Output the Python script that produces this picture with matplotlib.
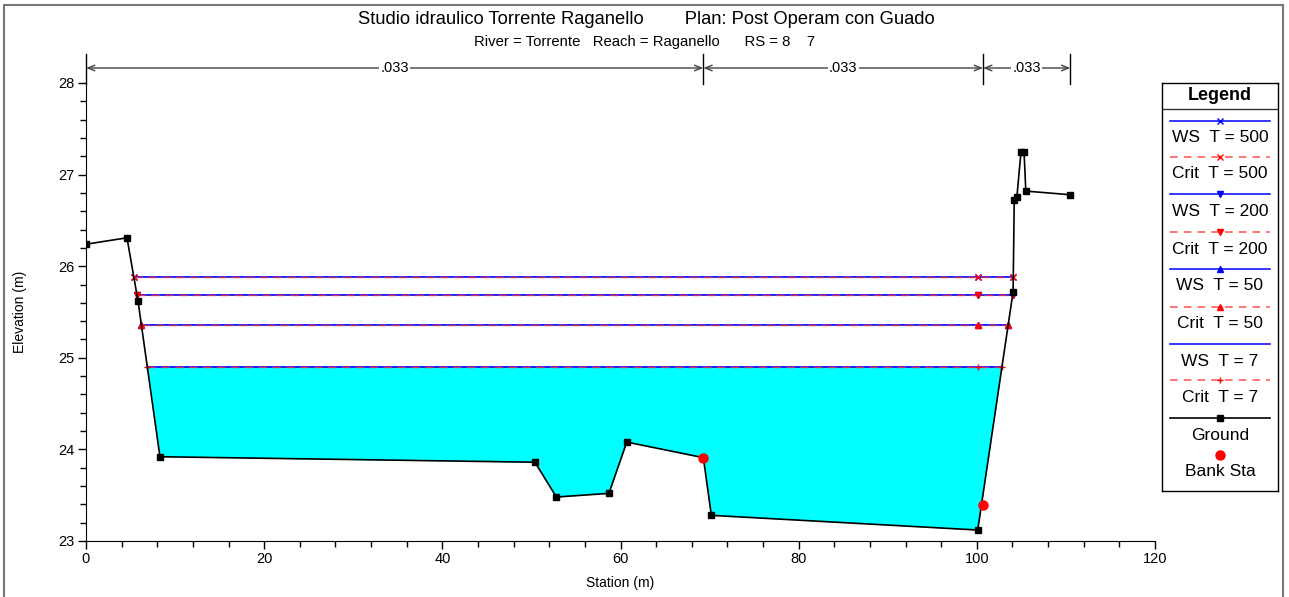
import numpy as np
import matplotlib
matplotlib.use("Agg")
import matplotlib.pyplot as plt
from matplotlib.patches import Rectangle
from matplotlib.ticker import MultipleLocator
import matplotlib.transforms as mtransforms

plt.rcParams['font.family'] = ['Liberation Sans', 'DejaVu Sans']

# dati
ground_sta = [0.0, 4.6, 5.84, 8.3, 50.4, 52.8, 58.7, 60.7, 69.3, 70.2, 100.1,
              104.07, 104.2, 104.5, 104.96, 105.3, 105.5, 110.5]
ground_elev = [26.24, 26.31, 25.62, 23.92, 23.86, 23.48, 23.52, 24.08, 23.91, 23.28, 23.12,
               25.72, 26.72, 26.76, 27.25, 27.25, 26.82, 26.78]
bank_sta = [69.3, 100.7]
bank_elev = [23.91, 23.39]
n_breaks = [0.0, 69.3, 100.7, 110.5]
n_values = ['.033', '.033', '.033']

profiles = ['T = 500', 'T = 200', 'T = 50', 'T = 7']
ws_elev = [25.88, 25.69, 25.36, 24.90]
crit_elev = [25.88, 25.69, 25.36, 24.90]
markers = ['x', 'v', '^', '+']
mid_sta = 100.1  # punto intermedio marcato sulle linee


def wet_limits(level):
    # intersezioni della superficie con il terreno (sponda sx e dx)
    x = np.array(ground_sta)
    z = np.array(ground_elev)
    i_low = int(np.argmin(z))
    left = right = None
    for i in range(i_low, 0, -1):
        if z[i - 1] >= level >= z[i]:
            left = x[i - 1] + (z[i - 1] - level) / (z[i - 1] - z[i]) * (x[i] - x[i - 1])
            break
    for i in range(i_low, len(x) - 1):
        if z[i] <= level <= z[i + 1]:
            right = x[i] + (level - z[i]) / (z[i + 1] - z[i]) * (x[i + 1] - x[i])
            break
    return left, right


fig = plt.figure(figsize=(12.89, 5.97), dpi=100)
W, H = 1289, 597
ax = fig.add_axes([86 / W, 1 - 541 / H, (1155 - 86) / W, (541 - 83) / H])

# riempimento acqua (profilo piu' basso)
xs = np.union1d(np.linspace(0, 110.5, 2000), ground_sta)
zs = np.interp(xs, ground_sta, ground_elev)
ax.fill_between(xs, zs, ws_elev[-1], where=zs < ws_elev[-1], interpolate=True,
                color='#00ffff', lw=0, zorder=1)

for k, lab in enumerate(profiles):
    l, r = wet_limits(ws_elev[k])
    ax.plot([l, r], [ws_elev[k]] * 2, color='blue', lw=1.2, zorder=2)
    mk = markers[k] if k < 3 else None
    if mk:
        ax.plot([l, mid_sta, r], [ws_elev[k]] * 3, ls='none', marker=mk, color='blue',
                ms=5, mew=1, zorder=2)
    l, r = wet_limits(crit_elev[k])
    ax.plot([l, r], [crit_elev[k]] * 2, color='#ff3030', lw=1.0, ls=(0, (6, 4)), alpha=0.8, zorder=3)
    ax.plot([l, mid_sta, r], [crit_elev[k]] * 3, ls='none', marker=markers[k], color='red',
            ms=5, mew=1, zorder=3)

ax.plot(ground_sta, ground_elev, color='black', lw=1.2, marker='s', ms=5, zorder=4)
ax.plot(bank_sta, bank_elev, ls='none', marker='o', color='red', ms=6.5, zorder=5)

ax.set_xlim(0, 120)
ax.set_ylim(23, 28)
ax.xaxis.set_major_locator(MultipleLocator(20))
ax.xaxis.set_minor_locator(MultipleLocator(4))
ax.yaxis.set_major_locator(MultipleLocator(1))
ax.yaxis.set_minor_locator(MultipleLocator(0.2))
ax.tick_params(which='major', length=6, width=1, labelsize=10.5, pad=2)
ax.tick_params(which='minor', length=4, width=1)
for s in ['top', 'right']:
    ax.spines[s].set_visible(False)

fig.text(620 / W, 1 - 583 / H, 'Station (m)', ha='center', va='center', fontsize=10)
fig.text(20 / W, 1 - 312 / H, 'Elevation (m)', ha='center', va='center', fontsize=10, rotation=90)

# valori di Manning sopra il grafico
trans = mtransforms.blended_transform_factory(ax.transData, ax.transAxes)
y_arr = (541 - 68) / 458
for b in n_breaks:
    ax.plot([b, b], [(541 - 84) / 458, (541 - 54) / 458], color='black', lw=1,
            transform=trans, clip_on=False)
for i, nv in enumerate(n_values):
    a, b = n_breaks[i], n_breaks[i + 1]
    ax.annotate('', xy=(a, y_arr), xytext=(b, y_arr), xycoords=trans, textcoords=trans,
                arrowprops=dict(arrowstyle='<->,head_length=0.5,head_width=0.2',
                                color='#444444', lw=1, shrinkA=0, shrinkB=0))
    ax.text((a + b) / 2, y_arr, nv, transform=trans, ha='center', va='center', fontsize=10.5,
            bbox=dict(facecolor='white', edgecolor='none', pad=1))

fig.text(646 / W, 1 - 20 / H, 'Studio idraulico Torrente Raganello        Plan: Post Operam con Guado',
         ha='center', va='center', fontsize=13.2)
fig.text(645 / W, 1 - 42 / H, 'River = Torrente   Reach = Raganello      RS = 8    7',
         ha='center', va='center', fontsize=10.7)

# legenda
lg = fig.add_axes([1162 / W, 1 - 491 / H, (1278 - 1162) / W, (491 - 83) / H])
lg.set_xlim(1162, 1278)
lg.set_ylim(491, 83)
lg.set_xticks([])
lg.set_yticks([])
for s in lg.spines.values():
    s.set_linewidth(1)
lg.text(1220, 96, 'Legend', ha='center', va='center', fontsize=13, fontweight='bold')
lg.plot([1162, 1278], [109, 109], color='#333333', lw=1)
x0, x1, xm = 1170, 1270, 1220
entries = []
for k, lab in enumerate(profiles):
    entries.append(('WS  ' + lab, 'blue', '-', markers[k] if k < 3 else None))
    entries.append(('Crit  ' + lab, '#ff5050', (0, (5, 4)), markers[k]))
y_line = [121, 157, 194, 232, 269, 307, 344, 380]
for (lab, col, ls, mk), yl in zip(entries, y_line):
    lg.plot([x0, x1], [yl, yl], color=col, ls=ls, lw=1.1)
    if mk:
        lg.plot([xm], [yl], marker=mk, color=col if col == 'blue' else 'red', ms=5, mew=1)
    lg.text(xm, yl + 17, lab, ha='center', va='center', fontsize=12.5)
lg.plot([x0, x1], [418, 418], color='black', lw=1.2)
lg.plot([xm], [418], marker='s', color='black', ms=5)
lg.text(xm, 435, 'Ground', ha='center', va='center', fontsize=12.5)
lg.plot([xm], [455], marker='o', color='red', ms=6.5)
lg.text(xm, 472, 'Bank Sta', ha='center', va='center', fontsize=12.5)

# cornice esterna
fig.patches.append(Rectangle((3.5 / W, -0.05), (1283 - 3.5) / W, 1.05 - 4.5 / H,
                             transform=fig.transFigure, fill=False, edgecolor='#777777', lw=1.5))

fig.savefig('out.png', dpi=100)
